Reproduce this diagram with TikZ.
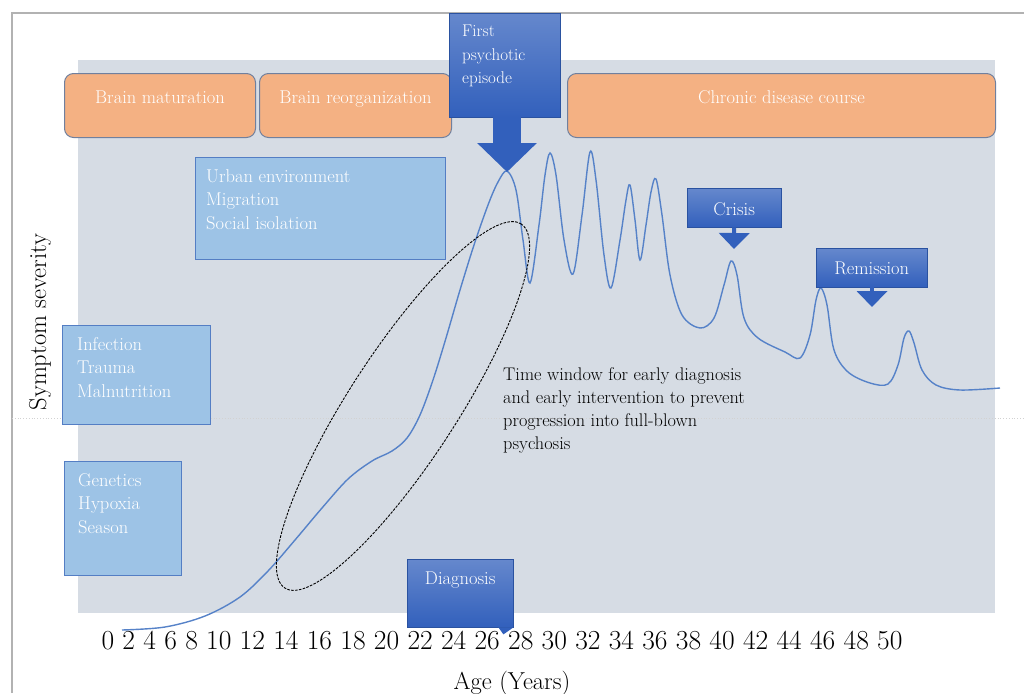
\documentclass[tikz,border=0pt]{standalone}
\usepackage{tikz}
\usepackage{xcolor}
\usetikzlibrary{positioning,arrows.meta}
\definecolor{panel}{RGB}{214,220,228}
\definecolor{phase}{RGB}{244,177,131}
\definecolor{phaseline}{RGB}{112,128,158}
\definecolor{lightblue}{RGB}{157,195,230}
\definecolor{blueline}{RGB}{84,126,196}
\definecolor{darkblue}{RGB}{50,96,188}
\definecolor{course}{RGB}{86,130,200}

\begin{document}
\begin{tikzpicture}[x=1pt, y=-1pt,
  phasebox/.style={draw=phaseline, line width=1pt, fill=phase, rounded corners=9pt, text=white,
    inner xsep=0pt, inner ysep=0pt, text height=30pt, text depth=34pt, font=\fontsize{18.5}{22}\selectfont},
  riskbox/.style={draw=blueline, line width=1pt, fill=lightblue, inner sep=0pt},
  risktext/.style={text=white, align=left, inner sep=0pt, font=\fontsize{18.5}{23.5}\selectfont},
  callout/.style={top color=darkblue!75!white, bottom color=darkblue, draw=darkblue!85!black, line width=0.4pt,
    text=white, inner xsep=0pt, inner ysep=0pt, font=\fontsize{18.5}{22}\selectfont},
  bigarrow/.style={line width=28pt, draw=darkblue, -{Triangle[length=29pt,width=58pt]}},
  smallarrow/.style={line width=4pt, draw=darkblue, -{Triangle[length=16pt,width=30pt]}},
  window/.style={draw=black, line width=0.9pt, dash pattern=on 2.6pt off 1.3pt},
]
\useasboundingbox (0,0) rectangle (1024,693);

% Frame and plot area
\draw[gray!60, line width=1.5pt] (12,693) -- (12,13) -- (1024,13);
\fill[panel] (78,60) rectangle (995,613);
\draw[gray!35, dotted, line width=0.8pt] (12,418) -- (1024,418);

% Phases
\node[phasebox, anchor=north west, minimum width=191pt] (maturation) at (64,73) {Brain maturation};
\node[phasebox, right=3pt of maturation, minimum width=192pt] (reorganization) {Brain reorganization};
\node[phasebox, anchor=north west, minimum width=428pt] (chronic) at (567,73) {Chronic disease course};

% Risk factors
\node[riskbox, anchor=north west, minimum width=250pt, minimum height=102pt] (urban) at (195,157) {};
\node[risktext, below right=12pt and 11pt of urban.north west] (urbantext) {Urban environment\\Migration\\Social isolation};
\node[riskbox, anchor=north west, minimum width=148pt, minimum height=99pt] (infection) at (62,325) {};
\node[risktext, below right=12pt and 15pt of infection.north west] (infectiontext) {Infection\\Trauma\\Malnutrition};
\node[riskbox, anchor=north west, minimum width=117pt, minimum height=114pt] (genetics) at (64,461) {};
\node[risktext, below right=12pt and 14pt of genetics.north west] (geneticstext) {Genetics\\Hypoxia\\Season};

% Disease course
\draw[course, line width=1.4pt] plot[smooth, tension=0.55] coordinates {
  (122,630) (165,627) (205,616) (240,597) (268,571) (295,540) (322,508) (348,479)
  (372,461) (392,451) (407,438) (420,415) (433,380) (446,338) (460,290) (474,245)
  (488,205) (498,182) (507,171) (516,190) (523,240) (530,283) (539,225) (545,175) (550,153)
  (556,175) (564,240) (573,274) (582,215) (590,152) (596,180) (604,255) (611,288)
  (620,240) (626,200) (630,185) (635,220) (640,260) (646,225) (651,192) (656,179) (662,215)
  (670,275) (682,315) (700,328) (714,318) (724,285) (731,261) (737,275) (744,318)
  (758,338) (785,352) (800,358) (810,335) (816,300) (821,288) (827,305) (834,350)
  (848,372) (870,383) (888,384) (898,365) (904,338) (909,331) (914,343) (922,370)
  (936,385) (960,390) (1000,388)};

% Time window
\draw[window, rotate around={57:(403,406)}] (403,406) ellipse [x radius=217pt, y radius=54pt];
\node[text=black, align=left, inner sep=0pt, font=\fontsize{18.3}{23}\selectfont, anchor=north west]
  (windowtext) at (503,367) {Time window for early diagnosis\\and early intervention to prevent\\progression into full-blown\\psychosis};

% Callouts
\node[callout, anchor=north west, minimum width=111pt, minimum height=104pt] (episode) at (449,13) {};
\node[risktext, font=\fontsize{17}{23.5}\selectfont, below right=12pt and 13pt of episode.north west] (episodetext) {First\\psychotic\\episode};
\coordinate (onset) at (507,172);
\draw[bigarrow] (episode.south -| onset) -- (onset);

\node[callout, anchor=north west, minimum width=94pt, text height=27pt, text depth=12pt] (crisis) at (687,188) {Crisis};
\coordinate (crisistip) at (734,249);
\draw[smallarrow] (crisis.south) -- (crisistip);

\node[callout, anchor=north west, minimum width=111pt, text height=26pt, text depth=13pt] (remission) at (816,248) {Remission};
\coordinate (remissiontip) at (872,307);
\draw[smallarrow] (remission.south -| remissiontip) -- (remissiontip);

\node[callout, anchor=north west, minimum width=106pt, text height=25pt, text depth=43pt] (diagnosis) at (407,559) {Diagnosis};
\fill[darkblue] ([xshift=-15pt]diagnosis.south east) -- ([xshift=-10pt,yshift=-7pt]diagnosis.south east) -- (diagnosis.south east) -- cycle;

% Axes
\node[rotate=90, font=\fontsize{24.5}{28}\selectfont] (severity) at (40,322) {Symptom severity};
\node[font=\fontsize{27.5}{32}\selectfont] (ages) at (502,641) {0 2 4 6 8 10 12 14 16 18 20 22 24 26 28 30 32 34 36 38 40 42 44 46 48 50};
\node[font=\fontsize{24.5}{28}\selectfont] (agelabel) at (512,683) {Age (Years)};
\end{tikzpicture}
\end{document}
